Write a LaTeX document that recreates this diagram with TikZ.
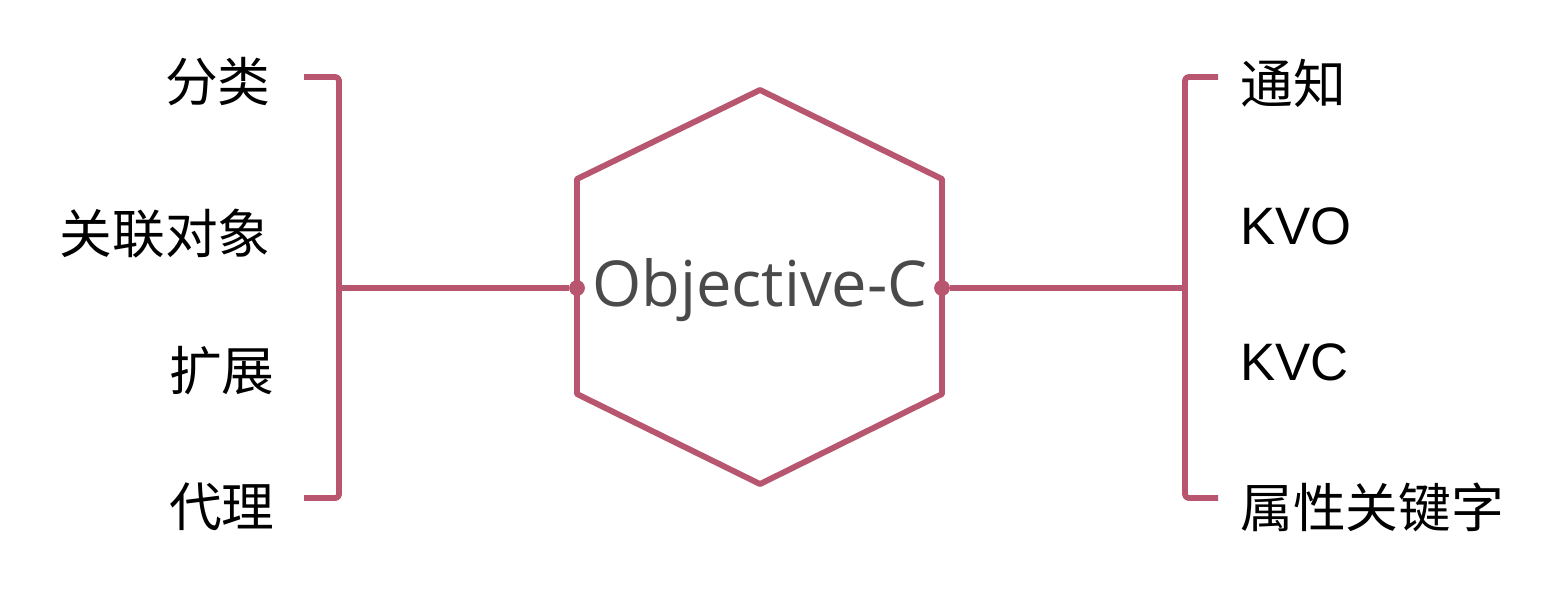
\documentclass[tikz,border=0pt]{standalone}
\usepackage{fontspec}
\setmainfont{Liberation Sans}
\newfontfamily\cjk{Noto Sans CJK SC}
\newfontfamily\ocfont{Open Sans}
\definecolor{rose}{RGB}{184,86,112}
\definecolor{ocgray}{RGB}{74,74,74}

\begin{document}
\begin{tikzpicture}[x=0.02cm,y=-0.02cm,line join=round,
                    branch/.style={draw=rose,line width=3.3pt},
                    left item/.style={anchor=east,inner sep=0pt,font=\fontsize{30}{36}\selectfont},
                    right item/.style={anchor=west,inner sep=0pt,font=\fontsize{30}{36}\selectfont},
                    joint/.style={circle,fill=rose,inner sep=0pt,minimum size=9pt}]
  \useasboundingbox (0,0) rectangle (1554,596);
  % hexagon corners
  \coordinate (t)  at (760,90);
  \coordinate (ul) at (577,179);
  \coordinate (ll) at (577,394);
  \coordinate (b)  at (760,484);
  \coordinate (lr) at (942,394);
  \coordinate (ur) at (942,179);
  \draw[gray,opacity=0.25,line width=3.5pt,xshift=4,yshift=-4] (t) -- (ul) -- (ll) -- (b) -- (lr) -- (ur) -- cycle;
  \draw[branch,fill=white] (t) -- (ul) -- (ll) -- (b) -- (lr) -- (ur) -- cycle;
  \node[font=\ocfont\fontsize{36}{40}\selectfont,text=ocgray] (oc) at (760,290) {Objective-C};
  \node[joint] (jl) at (577,288) {};
  \node[joint] (jr) at (942,288) {};

  % left bracket
  \coordinate (lt) at (304,77);
  \coordinate (lm) at (339,288);
  \coordinate (lb) at (304,498);
  \draw[branch,rounded corners=2pt] (lt) -- (lt -| lm) -- (lb -| lm) -- (lb);
  \draw[branch] (jl) -- (lm);
  \node[left item] (cat)   at (271,82)  {\cjk 分类};
  \node[left item] (assoc) at (271,234) {\cjk 关联对象};
  \node[left item] (ext)   at (275,371) {\cjk 扩展};
  \node[left item] (deleg) at (275,507) {\cjk 代理};

  % right bracket
  \coordinate (rt) at (1218,77);
  \coordinate (rm) at (1185,288);
  \coordinate (rb) at (1218,498);
  \draw[branch,rounded corners=2pt] (rt) -- (rt -| rm) -- (rb -| rm) -- (rb);
  \draw[branch] (jr) -- (rm);
  \node[right item] (notif) at (1240,83)  {\cjk 通知};
  \node[right item] (kvo)   at (1240,226) {KVO};
  \node[right item] (kvc)   at (1240,362) {KVC};
  \node[right item] (prop)  at (1240,507) {\cjk 属性关键字};
\end{tikzpicture}
\end{document}
